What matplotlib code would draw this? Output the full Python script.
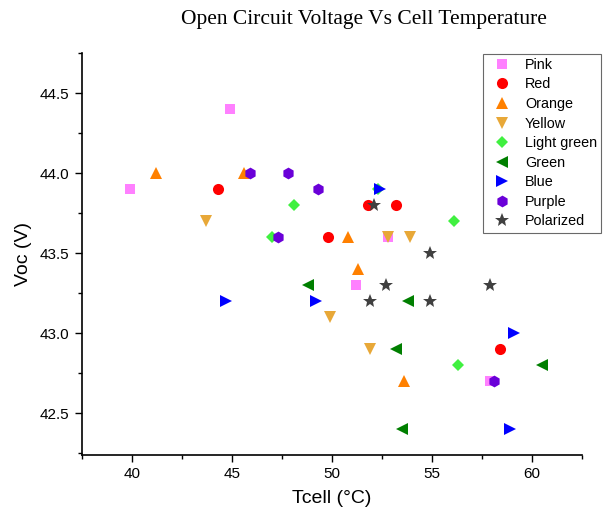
import matplotlib.pyplot as plt
from matplotlib.ticker import MultipleLocator

# Tcell (deg C) and Voc (V) for each panel colour
series_names = ['Pink', 'Red', 'Orange', 'Yellow', 'Light green',
                'Green', 'Blue', 'Purple', 'Polarized']

pink_t = [39.9, 44.9, 51.2, 52.8, 57.9]
pink_v = [43.9, 44.4, 43.3, 43.6, 42.7]

red_t = [44.3, 49.8, 51.8, 53.2, 58.4]
red_v = [43.9, 43.6, 43.8, 43.8, 42.9]

orange_t = [41.2, 45.6, 50.8, 51.3, 53.6]
orange_v = [44.0, 44.0, 43.6, 43.4, 42.7]

yellow_t = [43.7, 49.9, 51.9, 52.8, 53.9]
yellow_v = [43.7, 43.1, 42.9, 43.6, 43.6]

lgreen_t = [47.0, 48.1, 52.3, 56.1, 56.3]
lgreen_v = [43.6, 43.8, 43.9, 43.7, 42.8]

green_t = [48.8, 53.2, 53.5, 53.8, 60.5]
green_v = [43.3, 42.9, 42.4, 43.2, 42.8]

blue_t = [44.7, 49.2, 52.4, 58.9, 59.1]
blue_v = [43.2, 43.2, 43.9, 42.4, 43.0]

purple_t = [45.9, 47.3, 47.8, 49.3, 58.1]
purple_v = [44.0, 43.6, 44.0, 43.9, 42.7]

polar_t = [52.1, 51.9, 52.7, 54.9, 54.9, 57.9]
polar_v = [43.8, 43.2, 43.3, 43.5, 43.2, 43.3]

temps = [pink_t, red_t, orange_t, yellow_t, lgreen_t, green_t, blue_t, purple_t, polar_t]
volts = [pink_v, red_v, orange_v, yellow_v, lgreen_v, green_v, blue_v, purple_v, polar_v]

colors = ['#FF80FF', '#FF0000', '#FF8000', '#E8A838', '#40F040',
          '#007F00', '#0000FF', '#6A00D8', '#404040']
markers = ['s', 'o', '^', 'v', 'D', '<', '>', 'h', '*']
sizes = [7.0, 8.0, 9.0, 9.0, 6.5, 9.0, 9.0, 8.5, 10.0]

plt.rcParams['font.family'] = ['Liberation Sans', 'DejaVu Sans']

fig = plt.figure(figsize=(6.03, 5.20), dpi=100)
ax = fig.add_axes([0.136, 0.125, 0.8286, 0.7725])

for name, t, v, c, m, s in zip(series_names, temps, volts, colors, markers, sizes):
    ax.plot(t, v, linestyle='none', marker=m, color=c, markersize=s,
            markeredgewidth=0, label=name)

ax.set_xlim(37.5, 62.5)
ax.set_ylim(42.24, 44.75)
ax.xaxis.set_major_locator(MultipleLocator(5))
ax.xaxis.set_minor_locator(MultipleLocator(2.5))
ax.yaxis.set_major_locator(MultipleLocator(0.5))
ax.yaxis.set_minor_locator(MultipleLocator(0.25))
ax.tick_params(which='major', length=5, width=1, labelsize=11, pad=4)
ax.tick_params(which='minor', length=3, width=1)

ax.spines['top'].set_visible(False)
ax.spines['right'].set_visible(False)
ax.spines['left'].set_linewidth(1.2)
ax.spines['bottom'].set_linewidth(1.2)

ax.set_xlabel('Tcell (°C)', fontsize=14, labelpad=6)
ax.set_ylabel('Voc (V)', fontsize=14, labelpad=6)

fig.text(0.603, 0.963, 'Open Circuit Voltage Vs Cell Temperature',
         ha='center', va='center', fontsize=15.5, family='Liberation Serif')

leg = ax.legend(loc='upper left', bbox_to_anchor=(0.801, 0.897),
                bbox_transform=fig.transFigure, fontsize=10.4, frameon=True,
                fancybox=False, borderpad=0.3, labelspacing=0.385,
                handletextpad=0.6, handlelength=2.0, borderaxespad=0)
leg.get_frame().set_edgecolor('#444444')
leg.get_frame().set_linewidth(0.8)

fig.savefig('out.png', dpi=100)
